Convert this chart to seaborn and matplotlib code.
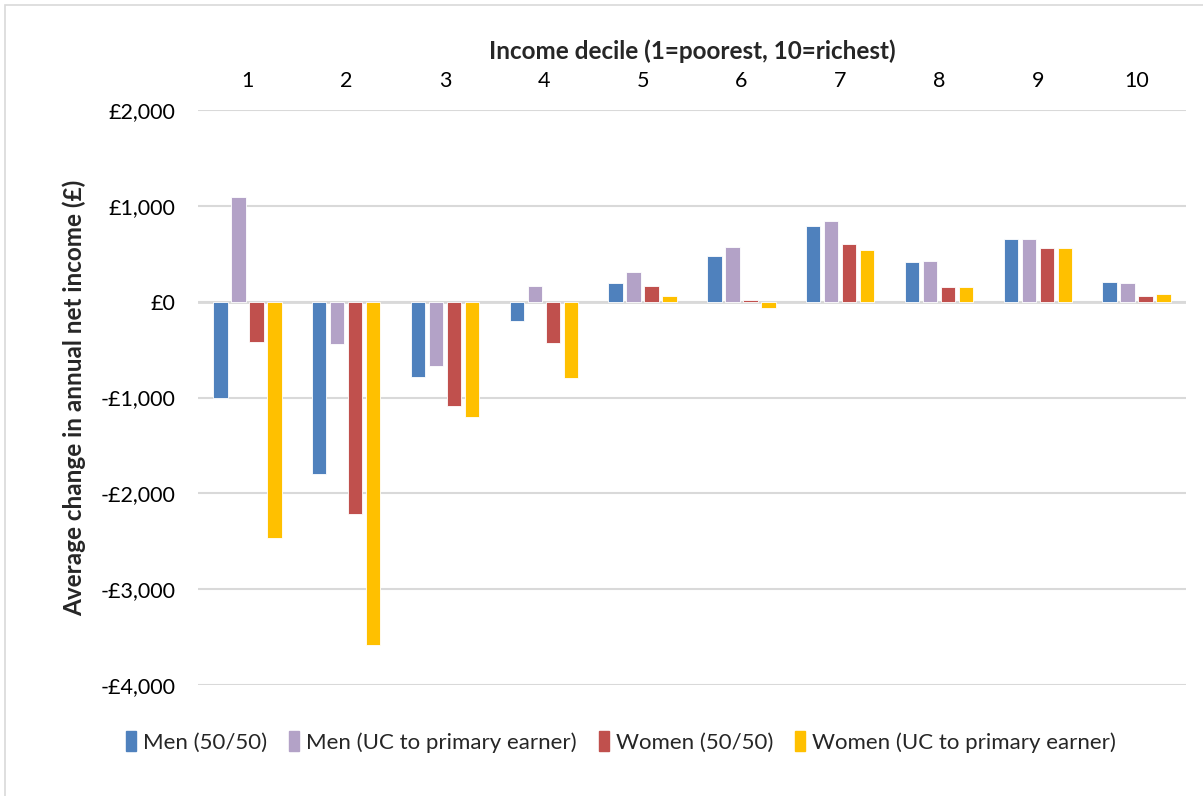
import matplotlib.pyplot as plt
import matplotlib.ticker as mticker
import pandas as pd
import seaborn as sns
from matplotlib.patches import Patch

deciles = ["1", "2", "3", "4", "5", "6", "7", "8", "9", "10"]
series_names = [
    "Men (50/50)",
    "Men (UC to primary earner)",
    "Women (50/50)",
    "Women (UC to primary earner)",
]
men_5050 = [-1000, -1800, -790, -200, 190, 480, 785, 415, 650, 210]
men_uc = [1090, -440, -670, 167, 310, 568, 842, 420, 650, 190]
women_5050 = [-423, -2215, -1085, -433, 161, 20, 598, 151, 560, 57]
women_uc = [-2465, -3580, -1204, -798, 57, -70, 536, 151, 560, 78]
colors = ["#4F81BD", "#B3A2C7", "#C0504D", "#FFC000"]

rows = []
for name, vals in zip(series_names, [men_5050, men_uc, women_5050, women_uc]):
    for d, v in zip(deciles, vals):
        rows.append({"decile": d, "series": name, "value": v})
df = pd.DataFrame(rows)

sns.set_theme(style="white")
plt.rcParams["font.family"] = ["Lato", "DejaVu Sans"]

fig = plt.figure(figsize=(12.03, 7.96), dpi=100)
ax = fig.add_axes([198 / 1203, 1 - 685 / 796, 988 / 1203, 575 / 796])

sns.barplot(
    data=df, x="decile", y="value", hue="series", order=deciles,
    hue_order=series_names, palette=colors, saturation=1, width=0.73, gap=0.2,
    edgecolor="white", linewidth=0.6, legend=False, ax=ax, zorder=3,
)

ax.set_ylim(-4000, 2000)
ax.set_xlim(-0.5, 9.5)
ax.yaxis.set_major_locator(mticker.MultipleLocator(1000))
ax.yaxis.set_major_formatter(
    mticker.FuncFormatter(lambda v, p: f"£{v:,.0f}" if v >= 0 else f"-£{-v:,.0f}")
)
ax.grid(axis="y", color="#D9D9D9", linewidth=1.5, zorder=0)
ax.axhline(0, color="#D9D9D9", linewidth=2, zorder=1)
for s in ax.spines.values():
    s.set_visible(False)

ax.xaxis.tick_top()
ax.xaxis.set_label_position("top")
ax.tick_params(axis="both", length=0, labelsize=15.5, colors="#000000")
ax.tick_params(axis="x", pad=14)
ax.tick_params(axis="y", pad=16)
ax.set_xlabel("Income decile (1=poorest, 10=richest)", fontsize=17.5,
              fontweight="bold", labelpad=8)
ax.set_ylabel("Average change in annual net income (£)", fontsize=17.5,
              fontweight="bold")
ax.yaxis.set_label_coords(-112 / 988, 0.5)

handles = [Patch(facecolor=c, edgecolor=c) for c in colors]
fig.legend(handles, series_names, loc="center", bbox_to_anchor=(621 / 1203, 1 - 742 / 796),
           ncol=4, frameon=False, fontsize=16, handlelength=0.45, handleheight=1.0,
           handletextpad=0.3, columnspacing=1.0)

fig.add_artist(plt.Rectangle((5 / 1203, -0.1), 1.2, 1 - 5 / 796 + 0.1,
                             transform=fig.transFigure, fill=False,
                             edgecolor="#D9D9D9", linewidth=1.2))

fig.savefig("out.png", dpi=100, facecolor="white")
